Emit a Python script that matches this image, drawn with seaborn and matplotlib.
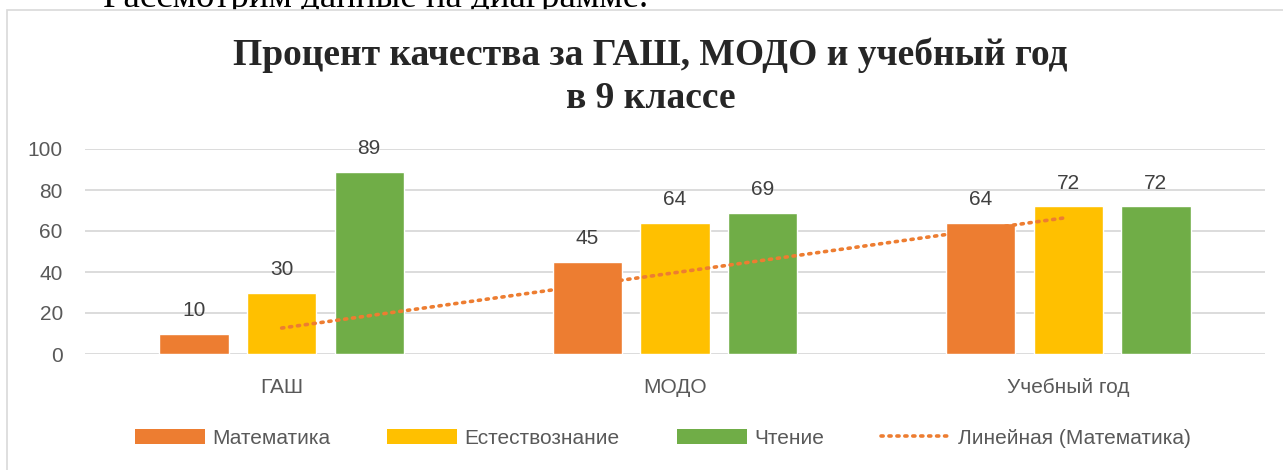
import numpy as np
import pandas as pd
import matplotlib
matplotlib.use("Agg")
import matplotlib.pyplot as plt
import seaborn as sns
from matplotlib.patches import Patch, Rectangle
from matplotlib.lines import Line2D

# Data
categories = ["ГАШ", "МОДО", "Учебный год"]
subjects = ["Математика", "Естествознание", "Чтение"]
math_vals = [10, 45, 64]
science_vals = [30, 64, 72]
reading_vals = [89, 69, 72]
colors = ["#ED7D31", "#FFC000", "#70AD47"]

df = pd.DataFrame({
    "category": categories * 3,
    "subject": [s for s in subjects for _ in categories],
    "value": math_vals + science_vals + reading_vals,
})

sns.set_theme(style="white")
plt.rcParams["font.family"] = ["Liberation Sans", "DejaVu Sans"]

fig = plt.figure(figsize=(12.83, 4.70), dpi=100)

# document text cut off above the chart frame
fig.text(103 / 1283, 1 - 7 / 470, "Рассмотрим данные на диаграмме.", family="Liberation Serif",
         fontsize=26.6, va="baseline", ha="left", color="black", zorder=0)
fig.patches.append(Rectangle((7 / 1283, -0.01), 1.0, 1 - 10 / 470 + 0.01, transform=fig.transFigure,
                             facecolor="white", edgecolor="#D9D9D9", lw=1.2, zorder=1))

ax = fig.add_axes([85 / 1283, 116 / 470, 1180 / 1283, 205 / 470])
ax.set_facecolor("none")
ax.set_zorder(2)

sns.barplot(data=df, x="category", y="value", hue="subject", palette=colors,
            width=0.668, gap=0.21, saturation=1, ax=ax, legend=False, zorder=3)

for cont in ax.containers:
    ax.bar_label(cont, padding=10, fontsize=15, color="#404040")

# linear trendline for Математика
xs = np.arange(len(categories))
k, b = np.polyfit(xs, math_vals, 1)
ax.plot(xs, k * xs + b, color="#ED7D31", lw=2.6, linestyle=(0, (0.6, 1.6)),
        dash_capstyle="round", zorder=4)

ax.set_ylim(0, 100)
ax.set_xlim(-0.5, 2.5)
ax.set_yticks(range(0, 101, 20))
ax.grid(axis="y", color="#D9D9D9", lw=1.3)
ax.set_axisbelow(True)
for sp in ax.spines.values():
    sp.set_visible(False)
ax.set_xlabel("")
ax.set_ylabel("")
ax.tick_params(axis="both", length=0, labelsize=15, colors="#595959")
ax.tick_params(axis="x", pad=17)
ax.tick_params(axis="y", pad=16)

fig.text(0.507, 1 - 65 / 470, "Процент качества за ГАШ, МОДО и учебный год",
         family="Liberation Serif", fontweight="bold", fontsize=27, ha="center", va="baseline",
         zorder=3)
fig.text(0.507, 1 - 108 / 470, "в 9 классе",
         family="Liberation Serif", fontweight="bold", fontsize=27, ha="center", va="baseline",
         zorder=3)

handles = [Patch(facecolor=c, edgecolor="none") for c in colors]
handles.append(Line2D([0], [0], color="#ED7D31", lw=2.6, linestyle=(0, (0.6, 1.6)),
                      dash_capstyle="round"))
labels = subjects + ["Линейная (Математика)"]
leg = fig.legend(handles, labels, loc="center", bbox_to_anchor=(663 / 1283, 1 - 438 / 470),
                 ncol=4, frameon=False, fontsize=15, handlelength=3.35, handleheight=0.72,
                 handletextpad=0.35, columnspacing=2.75)
for t in leg.get_texts():
    t.set_color("#595959")

fig.savefig("out.png", dpi=100)
